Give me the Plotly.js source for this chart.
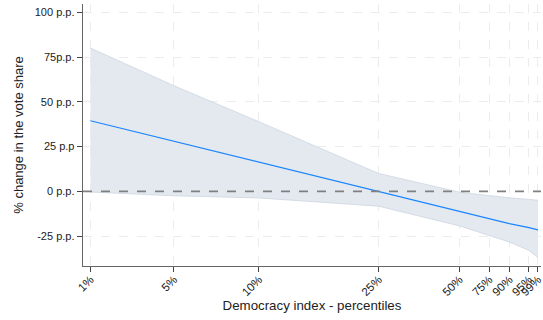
<!DOCTYPE html>
<html>
<head>
<meta charset="utf-8">
<script src="https://cdn.plot.ly/plotly-3.0.1.min.js"></script>
<style>html,body{margin:0;padding:0;background:#fff;}#chart{width:543px;height:320px;}</style>
</head>
<body>
<div id="chart"></div>
<script>
// Democracy index values at the labelled percentiles
var democracyIndex = [0.02, 0.186, 0.355, 0.593, 0.754, 0.813, 0.853, 0.892, 0.91];
var percentileLabels = ['1%', '5%', '10%', '25%', '50%', '75%', '90%', '95%', '99%'];
// Marginal effect (p.p.) and 95% CI
var effect = [39.4, 27.9, 16.3, 0.0, -11.2, -15.2, -18.0, -20.3, -21.5];
var upperCI = [80, 59, 38.9, 10, -0.5, -2.5, -3.6, -4.5, -5];
var lowerCI = [-0.4, -2.5, -3.7, -8.3, -19.3, -24.6, -28.3, -33, -37];
var yTickVals = [-25, 0, 25, 50, 75, 100];
var yTickText = ['-25 p.p.', '0 p.p.', '25 p.p', '50 p.p.', '75p.p.', '100 p.p.'];

var traces = [
  {x: democracyIndex, y: lowerCI, mode: 'lines', line: {color: 'rgba(200,210,222,0.9)', width: 0.8}, hoverinfo: 'skip', showlegend: false},
  {x: democracyIndex, y: upperCI, mode: 'lines', fill: 'tonexty', fillcolor: 'rgba(228,233,240,1)', line: {color: 'rgba(200,210,222,0.9)', width: 0.8}, hoverinfo: 'skip', showlegend: false},
  {x: democracyIndex, y: effect, mode: 'lines', line: {color: '#1a85ff', width: 1.2}, showlegend: false}
];

var layout = {
  width: 543, height: 320,
  margin: {l: 83, r: 2, t: 4, b: 54},
  paper_bgcolor: '#fff', plot_bgcolor: '#fff',
  font: {family: 'Liberation Sans, Arial, sans-serif', size: 11, color: '#222'},
  xaxis: {
    range: [0.0053, 0.916],
    tickvals: democracyIndex, ticktext: percentileLabels,
    tickangle: -45,
    ticklabeloverflow: 'allow',
    ticklabelstandoff: -4,
    showgrid: true, gridcolor: '#ececec', griddash: 'dash', gridwidth: 1,
    zeroline: false,
    showline: true, linecolor: '#666', linewidth: 1.3,
    ticks: 'outside', ticklen: 5, tickcolor: '#444', tickwidth: 1,
    tickfont: {size: 11.5, color: '#222'},
    title: {text: 'Democracy index - percentiles', font: {size: 13.3, color: '#222'}, standoff: 2}
  },
  yaxis: {
    range: [-41.7, 104.6],
    tickvals: yTickVals, ticktext: yTickText,
    showgrid: true, gridcolor: '#ececec', griddash: 'dash', gridwidth: 1,
    zeroline: false,
    showline: true, linecolor: '#666', linewidth: 1.3,
    ticks: 'outside', ticklen: 5, tickcolor: '#444', tickwidth: 1,
    tickfont: {size: 11, color: '#222'},
    title: {text: '% change in the vote share', font: {size: 13, color: '#222'}, standoff: 8}
  },
  shapes: [
    {type: 'line', xref: 'paper', x0: 0, x1: 1, yref: 'y', y0: 0, y1: 0, line: {color: '#808080', width: 1.8, dash: 'dash'}, layer: 'above'}
  ]
};

Plotly.newPlot('chart', traces, layout, {staticPlot: true, displayModeBar: false});
</script>
</body>
</html>
